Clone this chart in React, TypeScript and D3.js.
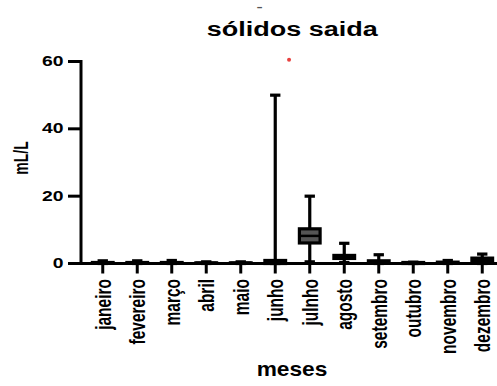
import React from 'react';
import * as d3 from 'd3';

// monthly box data (mL/L)
const months = ['janeiro', 'fevereiro', 'março', 'abril', 'maio', 'junho', 'julnho', 'agosto', 'setembro', 'outubro', 'novembro', 'dezembro'];
const mins = [0, 0, 0, 0, 0, 0, 0.5, 0.3, 0, 0, 0, 0];
const q1s = [0.1, 0.1, 0.1, 0.1, 0.1, 0, 6.1, 1.5, 0.1, 0, 0.1, 0.1];
const medians = [0.2, 0.2, 0.2, 0.2, 0.2, 0.3, 8.2, 2.0, 0.4, 0.1, 0.2, 0.7];
const q3s = [0.3, 0.3, 0.3, 0.2, 0.2, 0.9, 10.3, 2.4, 0.8, 0.3, 0.4, 1.6];
const maxs = [0.8, 0.8, 0.9, 0.5, 0.5, 50, 20, 6.0, 2.6, 0.4, 0.9, 2.8];
const yTicks = [0, 20, 40, 60];
const outliers = [{ month: 'junho', value: 60.5, shift: 0.4 }];

const W = 497;
const H = 386;
const left = 81;
const bottom = 263.5;
const top = 61.5;
const stretch = 1.38;
const font = 'Liberation Sans, Arial, sans-serif';

export default function App() {
  const x = d3.scaleBand().domain(months).range([85.5, 85.5 + 12 * 34.5]).padding(0);
  const y = d3.scaleLinear().domain([0, 60]).range([bottom, top]);
  const cx = (m: string) => (x(m) as number) + x.bandwidth() / 2;
  const boxW = x.step() * 0.6;
  const capW = x.step() * 0.3;

  const boxes = months.map((m, i) => ({ m, min: mins[i], q1: q1s[i], med: medians[i], q3: q3s[i], max: maxs[i] }));

  return (
    <svg width={W} height={H} style={{ position: 'absolute', left: 0, top: 0, background: '#fff' }}>
      <text transform="translate(259.7,10.4) scale(1.7,1)" textAnchor="middle" fontFamily={font} fontWeight="bold"
        fontSize={11} fill="#555">-</text>
      <text x={292.2} y={36} textAnchor="middle" fontFamily={font} fontWeight="bold" fontSize={20}
        textLength={171} lengthAdjust="spacingAndGlyphs">sólidos saida</text>

      {/* boxes */}
      {boxes.map(b => {
        const c = cx(b.m);
        return (
          <g key={b.m} stroke="#000" strokeWidth={3.2}>
            <line x1={c} x2={c} y1={y(b.max)} y2={y(b.min)} />
            <line x1={c - capW / 2} x2={c + capW / 2} y1={y(b.max)} y2={y(b.max)} />
            <line x1={c - capW / 2} x2={c + capW / 2} y1={y(b.min)} y2={y(b.min)} />
            <rect x={c - boxW / 2} width={boxW} y={y(b.q3)} height={Math.max(y(b.q1) - y(b.q3), 0.5)}
              fill={b.q3 - b.q1 > 2 ? '#555' : '#000'} />
            <line x1={c - boxW / 2} x2={c + boxW / 2} y1={y(b.med)} y2={y(b.med)} strokeWidth={2.5} />
          </g>
        );
      })}

      {outliers.map((o, i) => (
        <circle key={i} cx={cx(o.month) + o.shift * x.step()} cy={y(o.value)} r={2} fill="#e8413f" />
      ))}

      {/* axes */}
      <g stroke="#000" strokeWidth={3}>
        <line x1={left} x2={left} y1={top - 1.5} y2={bottom + 1.5} />
        <line x1={left} x2={W} y1={bottom} y2={bottom} />
        {yTicks.map(t => (
          <line key={t} x1={left - 13} x2={left} y1={y(t)} y2={y(t)} />
        ))}
        {months.map(m => (
          <line key={m} x1={cx(m)} x2={cx(m)} y1={bottom} y2={bottom + 10} />
        ))}
      </g>

      {yTicks.map(t => (
        <text key={t} transform={`translate(63.5,${y(t) + 4.5}) scale(${stretch},1)`} textAnchor="end"
          fontFamily={font} fontWeight="bold" fontSize={14}>{t}</text>
      ))}

      {months.map(m => (
        <text key={m} transform={`translate(${cx(m) + 7.8},279) scale(1.45,1) rotate(-90)`} textAnchor="end"
          fontFamily={font} fontWeight="bold" fontSize={15.5}>{m}</text>
      ))}

      <text transform={`translate(28,158) scale(1.45,1) rotate(-90)`} textAnchor="middle"
        fontFamily={font} fontWeight="bold" fontSize={14}>mL/L</text>

      <text x={292} y={375.7} textAnchor="middle" fontFamily={font} fontWeight="bold" fontSize={20.5}
        textLength={70.7} lengthAdjust="spacingAndGlyphs">meses</text>
    </svg>
  );
}
